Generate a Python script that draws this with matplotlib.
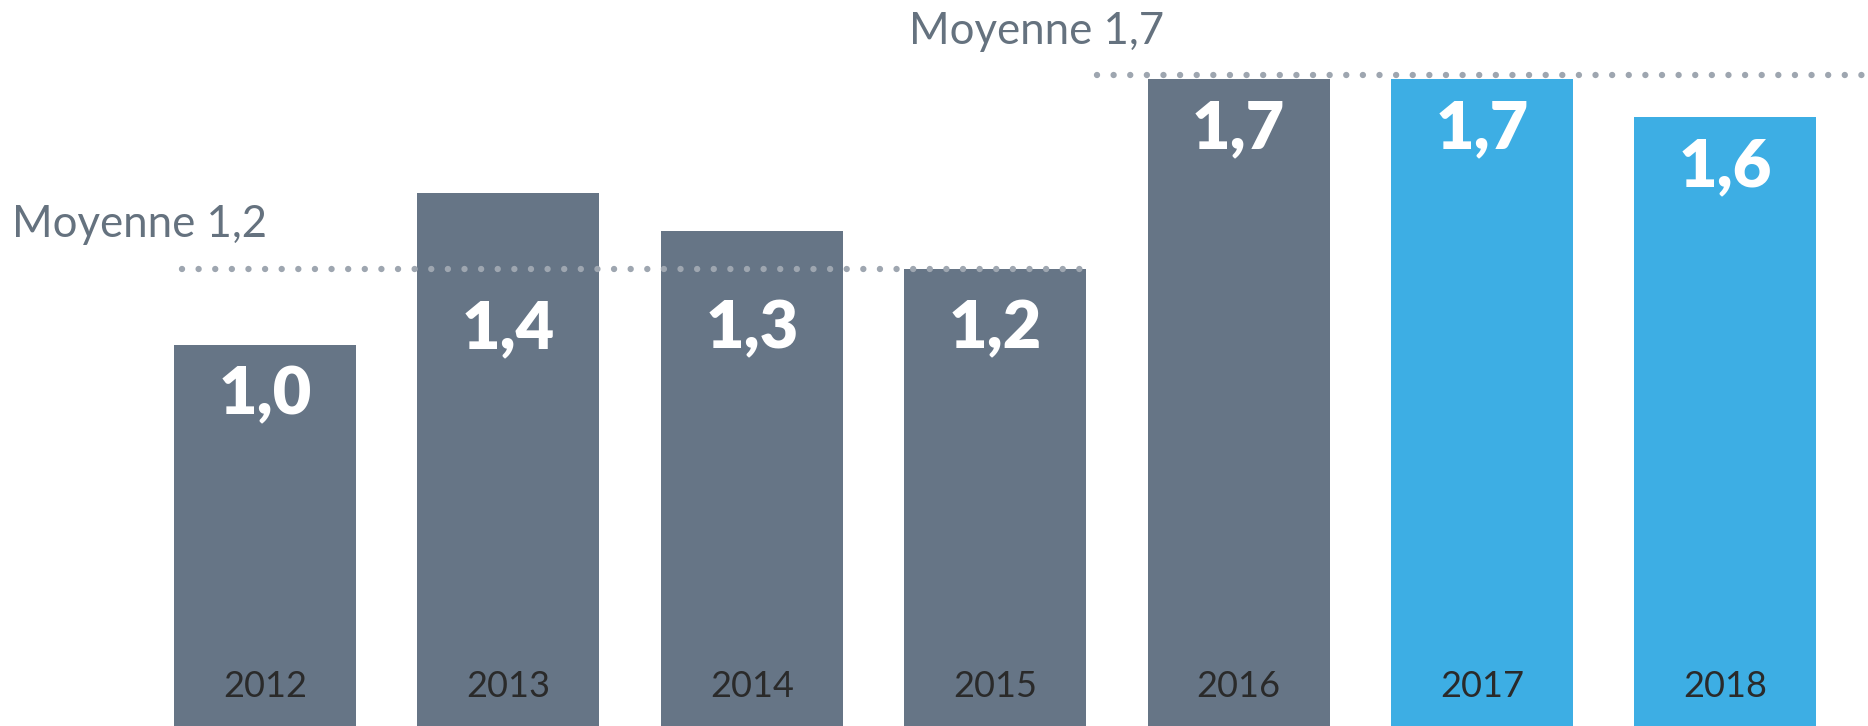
import matplotlib

matplotlib.use("Agg")
import matplotlib.pyplot as plt
import matplotlib.transforms as mtransforms
import numpy as np

YEARS = ["2012", "2013", "2014", "2015", "2016", "2017", "2018"]
VALUES = [1.0, 1.4, 1.3, 1.2, 1.7, 1.7, 1.6]
HIGHLIGHT = [False, False, False, False, False, True, True]
# (first bar index, last bar index, mean value, label)
MEANS = [(0, 3, 1.2, "Moyenne 1,2"), (4, 6, 1.7, "Moyenne 1,7")]

GREY = "#667586"
BLUE = "#3daee4"
DOT = "#9ea6b0"
TXT = "#65727f"
YEAR_TXT = "#2a2a2a"

plt.rcParams["font.family"] = ["Lato", "DejaVu Sans"]

fig = plt.figure(figsize=(18.68, 7.26), dpi=100, facecolor="white")
ax = fig.add_axes([0, 0, 1, 1])
ax.axis("off")

x = np.arange(len(YEARS))
w = 0.748
colors = [BLUE if h else GREY for h in HIGHLIGHT]
ax.bar(x, VALUES, width=w, color=colors, zorder=1)

ax.set_xlim(-1.089, 6.586)
ax.set_ylim(0, 1.908)

# dotted mean lines
for i0, i1, m, label in MEANS:
    if i0 == 0:
        xs, xe = -0.34, i1 + w / 2
        tx, ty = -1.039, 1.319
        tr = ax.transData
    else:
        xs, xe = i0 - 0.58, 6.6
        tx, ty = 2.646, 1.824
        tr = mtransforms.offset_copy(ax.transData, fig=fig, x=0, y=4, units="dots")
    ax.plot([xs, xe], [m, m], color=DOT, lw=4.6, linestyle=(0, (0.001, 2.6)),
            dash_capstyle="round", zorder=3, clip_on=False, transform=tr)
    ax.text(tx, ty, label, fontsize=31.5, color=TXT, fontweight="normal",
            ha="left", va="center")

# value labels inside the bars (kept clear of the first dotted line)
for i, v in enumerate(VALUES):
    i0, m = next((a, mm) for a, b, mm, _ in MEANS if a <= i <= b)
    gap = 0.157 if (i0 == 0 and v >= m) else 0.13
    ly = min(v, m) - gap
    ax.text(i, ly, f"{v:.1f}".replace(".", ","), fontsize=48, color="white",
            fontweight="heavy", ha="center", va="center", zorder=4)
    ax.text(i, 0.105, YEARS[i], fontsize=26, color=YEAR_TXT, fontweight="normal",
            ha="center", va="center", zorder=4)

fig.savefig("out.png", dpi=100, facecolor="white")
